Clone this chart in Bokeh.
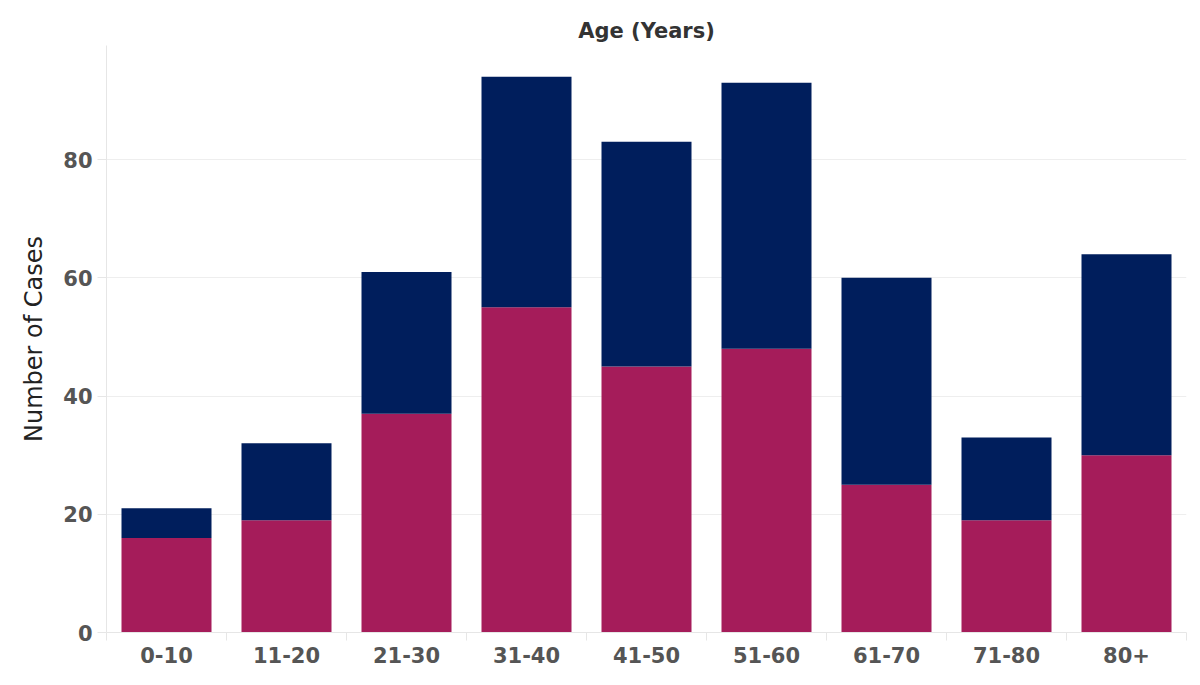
import numpy as np
from bokeh.plotting import figure
from bokeh.models import Range1d, FixedTicker, ColumnDataSource
from bokeh.embed import file_html
from bokeh.resources import INLINE

categories = ["0-10", "11-20", "21-30", "31-40", "41-50", "51-60", "61-70", "71-80", "80+"]
series_bottom = [16, 19, 37, 55, 45, 48, 25, 19, 30]   # magenta
series_top = [5, 13, 24, 39, 38, 45, 35, 14, 34]       # navy
y_ticks = [0, 20, 40, 60, 80]

color_bottom = "#A51C5A"
color_top = "#001E5C"

n = len(categories)
xpos = np.arange(n) + 0.5
source = ColumnDataSource(dict(x=xpos, bottom=series_bottom, top=series_top))

p = figure(width=1192, height=677, output_backend="svg", toolbar_location=None,
           x_range=Range1d(0, n), y_range=Range1d(0, 99.3),
           min_border_left=106, min_border_right=6, min_border_top=45, min_border_bottom=45)

p.vbar_stack(["bottom", "top"], x="x", width=0.75, source=source,
             color=[color_bottom, color_top], line_color=None)

p.title.text = "Age (Years)"
p.title.align = "center"
p.title.text_font = "DejaVu Sans"
p.title.text_font_style = "bold"
p.title.text_font_size = "21px"
p.title.text_color = "#333333"
p.title.offset = 0
p.title.standoff = 6

p.outline_line_color = None
p.background_fill_color = "white"
p.border_fill_color = "white"

# x axis
p.xaxis.ticker = FixedTicker(ticks=list(xpos), minor_ticks=list(range(n + 1)))
p.xaxis.major_label_overrides = {float(x): c for x, c in zip(xpos, categories)}
p.xaxis.major_tick_line_color = None
p.xaxis.major_tick_out = 0
p.xaxis.major_tick_in = 0
p.xaxis.minor_tick_line_color = "#e6e6e6"
p.xaxis.minor_tick_out = 8
p.xaxis.minor_tick_in = 0
p.xaxis.axis_line_color = "#e6e6e6"
p.xaxis.major_label_text_font = "DejaVu Sans"
p.xaxis.major_label_text_font_style = "bold"
p.xaxis.major_label_text_font_size = "21px"
p.xaxis.major_label_text_color = "#555555"
p.xaxis.major_label_standoff = 6
p.xgrid.grid_line_color = None

# y axis
p.yaxis.ticker = FixedTicker(ticks=y_ticks, minor_ticks=[])
p.yaxis.axis_label = "Number of Cases"
p.yaxis.axis_label_text_font = "DejaVu Sans"
p.yaxis.axis_label_text_font_style = "normal"
p.yaxis.axis_label_text_font_size = "24px"
p.yaxis.axis_label_text_color = "#222222"
p.yaxis.axis_label_standoff = 12
p.yaxis.major_label_text_font = "DejaVu Sans"
p.yaxis.major_label_text_font_style = "bold"
p.yaxis.major_label_text_font_size = "21px"
p.yaxis.major_label_text_color = "#555555"
p.yaxis.major_label_standoff = 5
p.yaxis.axis_line_color = "#e6e6e6"
p.yaxis.major_tick_line_color = "#e6e6e6"
p.yaxis.major_tick_out = 9
p.yaxis.major_tick_in = 0
p.ygrid.grid_line_color = "#eeeeee"

open("out.html", "w").write(file_html(p, INLINE))
